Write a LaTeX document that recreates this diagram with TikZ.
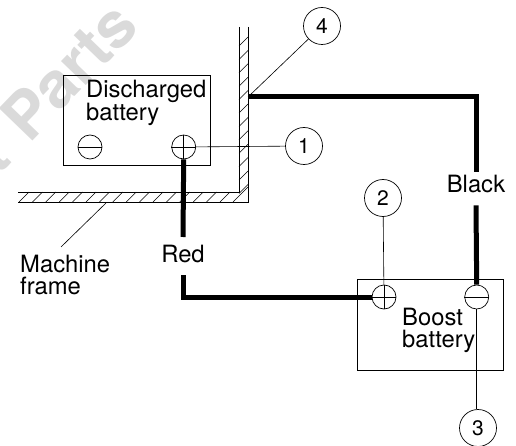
\documentclass[tikz,border=0pt]{standalone}
\usepackage{fontspec}
\setmainfont{TeX Gyre Heros}
\usetikzlibrary{positioning}
\definecolor{WMark}{HTML}{DADADA}

\begin{document}
\begin{tikzpicture}[
  x=1pt,y=-1pt,
  batt/.style={draw,line width=1pt,rectangle,inner sep=0pt,anchor=north west},
  term/.style={draw,circle,line width=0.7pt,minimum size=24pt,inner sep=0pt,fill=white},
  call/.style={draw,circle,line width=0.7pt,minimum size=37pt,inner sep=0pt,font=\fontsize{21}{21}\selectfont},
  lab/.style={inner sep=0pt,align=left,anchor=base west,font=\fontsize{23.8}{21.8}\selectfont},
  wirelab/.style={inner sep=0pt,anchor=north,font=\fontsize{23.8}{21.8}\selectfont},
  wire/.style={line width=5pt,miter limit=10},
  lead/.style={line width=0.6pt},
  wall/.style={line width=0.9pt},
  hatch/.style={line width=0.5pt}
]
  \useasboundingbox (0,0) rectangle (516,446);
  \node[rotate=46,text=WMark,anchor=base west,inner sep=0pt,font=\bfseries\fontsize{64}{64}\selectfont] (wmark) at (-2,177) {t\hspace{6pt} Parts};

  % machine frame
  \draw[wall] (239,27) -- (239,192) -- (18,192);
  \draw[wall] (248,27) -- (248,202) -- (18,202);
  \foreach \x in {19,32.4,...,220}
    {\draw[hatch] (\x,202) -- (\x+10,192);}
  \draw[hatch] (233,202) -- (248,187);
  \foreach \y in {37,50.4,...,185}
    {\draw[hatch] (239,\y+9) -- (248,\y);}

  % batteries
  \node[batt,minimum width=147.5pt,minimum height=90pt] (dbat) at (62.5,75) {};
  \node[batt,minimum width=146.5pt,minimum height=91pt] (bbat) at (356.5,279) {};
  \node[term] (dminus) at (90,147) {};
  \node[term,right=69pt of dminus] (dplus) {};
  \node[term] (bplus) at (384,297) {};
  \node[term,right=68pt of bplus] (bminus) {};
  \foreach \n in {dminus,dplus,bplus,bminus}
    {\draw[line width=0.6pt] (\n.west) -- (\n.east);}
  \foreach \n in {dplus,bplus}
    {\draw[line width=0.6pt] (\n.north) -- (\n.south);}

  % texts
  \node[lab] (dtext) at (86,121) {Discharged\\battery};
  \node[lab] (btext) at (402,347) {Boost\\battery};
  \node[lab] (frame) at (20,294) {Machine\\frame};
  \node[wirelab,text height=25pt,text depth=13pt] (red) at (183,237) {Red};
  \node[wirelab,text height=20pt,text depth=13pt] (black) at (476,172) {Black};

  % callouts
  \node[call] (c4) at (322,26) {4};
  \node[call] (c1) at (304,146) {1};
  \node[call] (c2) at (383,198) {2};
  \node[call] (c3) at (478,428) {3};
  \coordinate (clamp) at (248,97);
  \coordinate (framept) at (106,203);
  \coordinate (frameend) at (61,247);

  % leaders
  \draw[lead] (c4) -- (clamp);
  \draw[lead] (c1) -- (dplus);
  \draw[lead] (c2) -- (bplus);
  \draw[lead] (c3.north -| bminus) -- (bminus);
  \draw[lead] (framept) -- (frameend);

  % cables
  \draw[wire] (clamp) -- (black.north |- clamp) -- (black.north);
  \draw[wire] (black.south) -- (bminus.north);
  \draw[wire] (dplus.south) -- (red.north);
  \draw[wire] (red.south) -- (red.south |- bplus) -- (bplus.west);
\end{tikzpicture}
\end{document}
